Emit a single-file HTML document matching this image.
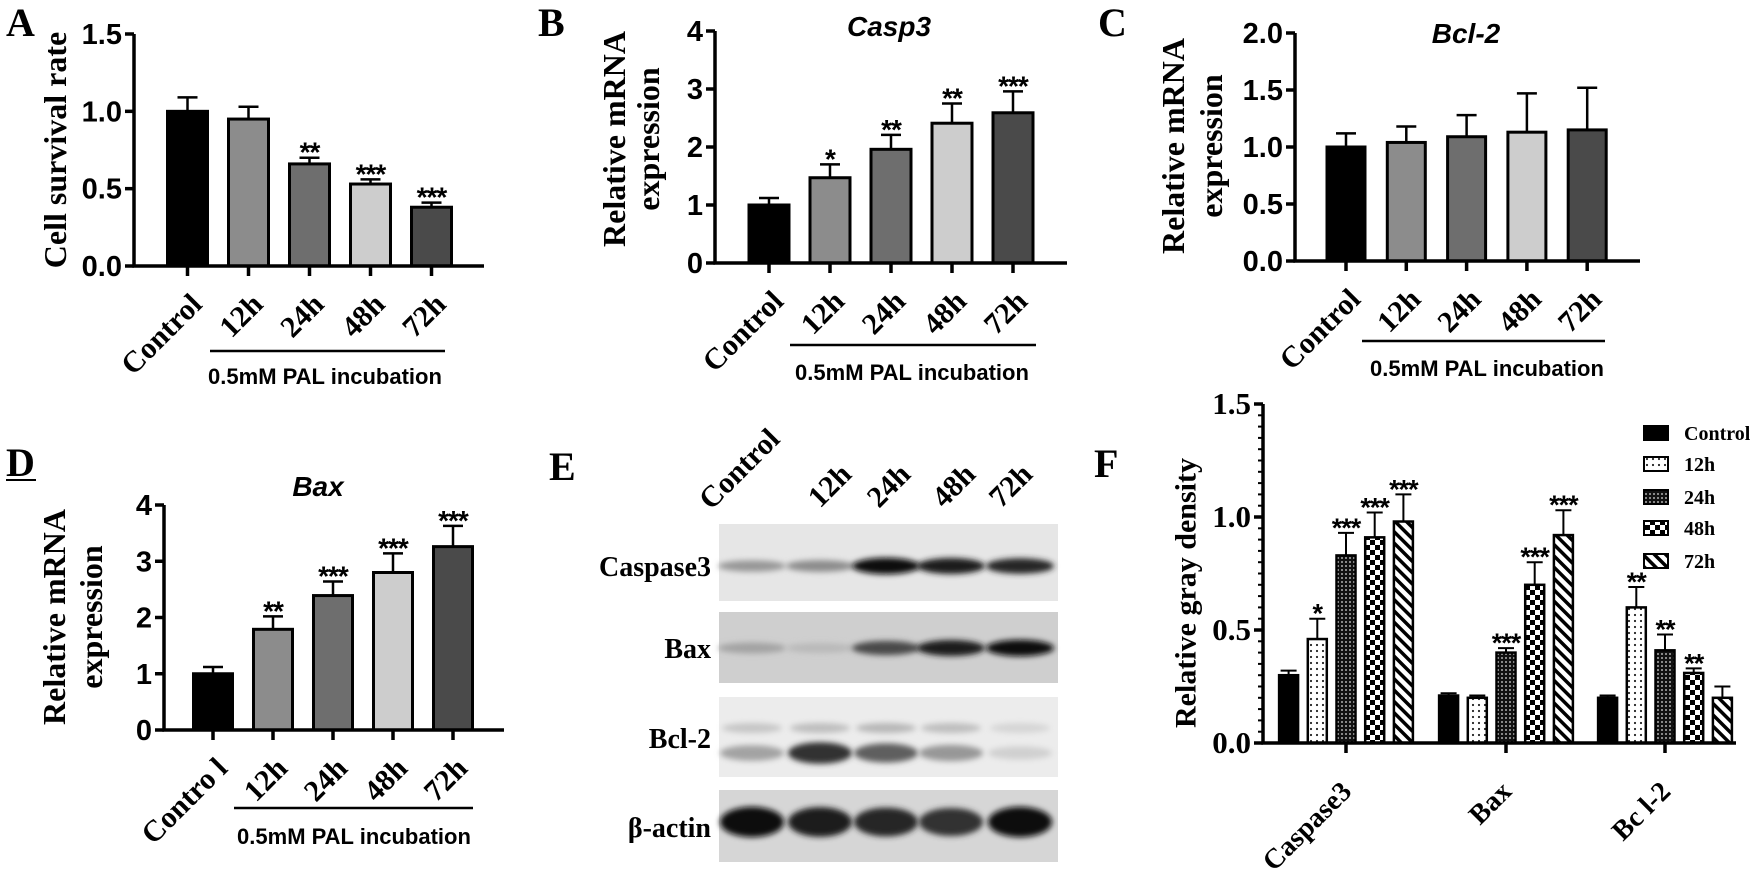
<!DOCTYPE html>
<html><head><meta charset="utf-8"><style>
html,body{margin:0;padding:0;background:#fff;}
svg{display:block;}
.tb{font-family:"Liberation Serif",serif;font-weight:bold;}
.ab{font-family:"Liberation Sans",sans-serif;font-weight:bold;}
</style></head><body>
<svg id="fig" xmlns="http://www.w3.org/2000/svg" width="1750" height="881" viewBox="0 0 1750 881">
<defs>
<pattern id="p12" width="6" height="6" patternUnits="userSpaceOnUse"><rect width="6" height="6" fill="#fff"/><circle cx="3" cy="3" r="1.1" fill="#222"/></pattern>
<pattern id="p24" width="4" height="4" patternUnits="userSpaceOnUse"><rect width="4" height="4" fill="#111"/><circle cx="2" cy="2" r="0.9" fill="#ddd"/></pattern>
<pattern id="p48" width="10" height="10" patternUnits="userSpaceOnUse"><rect width="10" height="10" fill="#fff"/><rect width="5" height="5" fill="#000"/><rect x="5" y="5" width="5" height="5" fill="#000"/></pattern>
<pattern id="p72" width="8" height="8" patternUnits="userSpaceOnUse" patternTransform="rotate(-45)"><rect width="8" height="8" fill="#fff"/><rect width="3.5" height="8" fill="#000"/></pattern>
<filter id="blur3" x="-20%" y="-100%" width="140%" height="300%"><feGaussianBlur stdDeviation="3"/></filter>
</defs>
<g id="root"></g>
</svg>
<script>
// ---------- Panel A data ----------
const catsA = ["Control","12h","24h","48h","72h"];
const valsA = [1.0, 0.95, 0.66, 0.53, 0.38];
const errsA = [0.09, 0.08, 0.04, 0.03, 0.03];
const starsA = ["", "", "**", "***", "***"];
const ticksA = [0, 0.5, 1.0, 1.5];
// ---------- Panel B data ----------
const catsB = ["Control","12h","24h","48h","72h"];
const valsB = [1.0, 1.47, 1.96, 2.41, 2.59];
const errsB = [0.12, 0.23, 0.25, 0.34, 0.37];
const starsB = ["", "*", "**", "**", "***"];
const ticksB = [0, 1, 2, 3, 4];
// ---------- Panel C data ----------
const catsC = ["Control","12h","24h","48h","72h"];
const valsC = [1.0, 1.04, 1.09, 1.13, 1.15];
const errsC = [0.12, 0.14, 0.19, 0.34, 0.37];
const starsC = ["", "", "", "", ""];
const ticksC = [0, 0.5, 1.0, 1.5, 2.0];
// ---------- Panel D data ----------
const catsD = ["Contro l","12h","24h","48h","72h"];
const valsD = [1.0, 1.79, 2.39, 2.8, 3.26];
const errsD = [0.12, 0.23, 0.25, 0.34, 0.37];
const starsD = ["", "**", "***", "***", "***"];
const ticksD = [0, 1, 2, 3, 4];
// ---------- Panel F data ----------
const groupsF = ["Caspase3","Bax","Bc l-2"];
const seriesF = ["Control","12h","24h","48h","72h"];
const valsFControl = [0.30, 0.21, 0.20];
const valsF12h = [0.46, 0.20, 0.60];
const valsF24h = [0.83, 0.40, 0.41];
const valsF48h = [0.91, 0.70, 0.31];
const valsF72h = [0.98, 0.92, 0.20];
const errsFControl = [0.02, 0.01, 0.01];
const errsF12h = [0.09, 0.01, 0.09];
const errsF24h = [0.10, 0.02, 0.07];
const errsF48h = [0.11, 0.10, 0.02];
const errsF72h = [0.12, 0.11, 0.05];
const starsFControl = ["", "", ""];
const starsF12h = ["*", "", "**"];
const starsF24h = ["***", "***", "**"];
const starsF48h = ["***", "***", "**"];
const starsF72h = ["***", "***", ""];
const ticksF = [0, 0.5, 1.0, 1.5];
// ---------- Panel E (western blot band intensities, 0..1) ----------
const lanesE = ["Control","12h","24h","48h","72h"];
const blotRowsE = ["Caspase3","Bax","Bcl-2","β-actin"];
const bandCasp = [0.35, 0.4, 0.95, 0.9, 0.85];
const bandBax = [0.3, 0.2, 0.7, 0.9, 0.95];
const bandBcl = [0.3, 0.8, 0.6, 0.35, 0.1];
const bandActin = [0.95, 0.9, 0.85, 0.8, 0.95];

const NS = "http://www.w3.org/2000/svg";
const root = document.getElementById("root");
function el(tag, parent){ const e=document.createElementNS(NS,tag); (parent||root).appendChild(e); return e; }
function at(e, o){ for(const k in o) e.setAttribute(k,o[k]); return e; }
function txt(parent, s, o){ const t=el("text",parent); at(t,o); t.textContent=s; return t; }

const grays = ["#000","#8c8c8c","#6e6e6e","#cdcdcd","#4a4a4a"];

function panelLabel(s,x,y,name,underline){
  const t = txt(root, s, {x:x, y:y, class:"tb", "font-size":40});
  
  
  if(underline){ const l=el("line"); at(l,{x1:x,x2:x+30,y1:y+4,y2:y+4,stroke:"#000","stroke-width":2});
    
     }
}

function barChart(P){
  const g = el("g");
  
  
  const ys = v => P.y0 - (v/P.max)*(P.y0-P.yTop);
  const xs = i => P.c0 + i*P.step;
  P.vals.forEach((v,i)=>{
    const r = el("rect",g);
    at(r,{x:xs(i)-P.bw/2, y:ys(v), width:P.bw, height:P.y0-ys(v), fill:grays[i], stroke:"#000","stroke-width":3});
    
    
    const e = el("path",g);
    const top = ys(v+P.errs[i]);
    at(e,{d:`M${xs(i)} ${ys(v)} V${top} M${xs(i)-10} ${top} H${xs(i)+10}`, stroke:"#000","stroke-width":2.5, fill:"none"});
    
    
    if(P.stars[i]){
      const s = txt(g, P.stars[i], {x:xs(i), y:top+4, "text-anchor":"middle", class:"ab", "font-size":28, "letter-spacing":"-1"});
      
      
    }
  });
  const ax = el("path",g);
  at(ax,{d:`M${P.axisX} ${P.yTop} V${P.y0} H${P.xEnd}`, stroke:"#000","stroke-width":3.5, fill:"none"});
  
  
  P.ticks.forEach(t=>{
    const l = el("line",g); at(l,{x1:P.axisX-9,x2:P.axisX,y1:ys(t),y2:ys(t),stroke:"#000","stroke-width":3.5});
    
    
    const tl = txt(g, P.dec? t.toFixed(1): String(t), {x:P.axisX-12, y:ys(t)+10, "text-anchor":"end", class:"ab", "font-size":29});
    
    
  });
  P.cats.forEach((c,i)=>{
    const l = el("line",g); at(l,{x1:xs(i),x2:xs(i),y1:P.y0,y2:P.y0+10,stroke:"#000","stroke-width":3.5});
    
    
    const X = xs(i)+16, Y = P.y0+40;
    const t = txt(g, c, {x:X, y:Y, "text-anchor":"end", class:"tb", "font-size":30, transform:`rotate(-45 ${X} ${Y})`});
    
    
  });
  P.ytitle.forEach((s,k)=>{
    const X = P.ytx[k], Y = P.yty;
    const t = txt(g, s, {x:X, y:Y, "text-anchor":"middle", "dominant-baseline":"central", class:"tb", "font-size":32, transform:`rotate(-90 ${X} ${Y})`});
    
    
  });
  if(P.title){
    const t = txt(g, P.title, {x:P.titleX, y:P.titleY, "text-anchor":"middle", "font-family":"Liberation Sans, sans-serif","font-weight":"bold","font-style":"italic","font-size":28});
    
    
  }
  const u = el("line",g); at(u,{x1:P.ul[0],x2:P.ul[1],y1:P.ulY,y2:P.ulY,stroke:"#000","stroke-width":2.5});
  
  
  const gt = txt(g, "0.5mM PAL incubation", {x:P.gtx, y:P.gty, "text-anchor":"middle", class:"ab", "font-size":22});
  
  
}

barChart({name:"panel-a-chart", cats:catsA, vals:valsA, errs:errsA, stars:starsA, ticks:ticksA, dec:true, max:1.5,
  axisX:134, y0:266, yTop:34, xEnd:484, c0:187.5, step:61, bw:40,
  ytitle:["Cell survival rate"], ytx:[55], yty:150, ul:[210,445], ulY:351, gtx:325, gty:384});
barChart({name:"panel-b-chart", cats:catsB, vals:valsB, errs:errsB, stars:starsB, ticks:ticksB, dec:false, max:4,
  axisX:715, y0:263, yTop:31, xEnd:1067, c0:769, step:61, bw:40, title:"Casp3", titleX:889, titleY:36,
  ytitle:["Relative mRNA","expression"], ytx:[614,648], yty:139, ul:[790,1036], ulY:345, gtx:912, gty:380});
barChart({name:"panel-c-chart", cats:catsC, vals:valsC, errs:errsC, stars:starsC, ticks:ticksC, dec:true, max:2,
  axisX:1295, y0:261, yTop:33, xEnd:1640, c0:1346, step:60.3, bw:38, title:"Bcl-2", titleX:1466, titleY:43,
  ytitle:["Relative mRNA","expression"], ytx:[1173,1211], yty:146, ul:[1362,1605], ulY:341, gtx:1487, gty:376});
barChart({name:"panel-d-chart", cats:catsD, vals:valsD, errs:errsD, stars:starsD, ticks:ticksD, dec:false, max:4,
  axisX:164, y0:730, yTop:505, xEnd:504, c0:213, step:60, bw:39, title:"Bax", titleX:318, titleY:496,
  ytitle:["Relative mRNA","expression"], ytx:[54,91], yty:617, ul:[234,473], ulY:808, gtx:354, gty:844});

panelLabel("A",6,36,"panel-label-a");
panelLabel("B",538,36,"panel-label-b");
panelLabel("C",1098,36,"panel-label-c");
panelLabel("D",6,476,"panel-label-d",true);
panelLabel("E",549,480,"panel-label-e");
panelLabel("F",1094,477,"panel-label-f");

// ---------- Panel E: western blot ----------
(function(){
  const g = el("g");
  
  
  const bx0 = 719, bx1 = 1058;
  const laneX = [752, 820, 886, 951, 1020];
  const rows = [
    {y0:524,y1:601,bg:"#e6e6e6",band:566,vals:bandCasp,h:7,w:30},
    {y0:612,y1:683,bg:"#cfcfcf",band:648,vals:bandBax,h:7,w:30},
    {y0:697,y1:777,bg:"#ececec",band:753,vals:bandBcl,h:10,w:28},
    {y0:790,y1:862,bg:"#d6d6d6",band:822,vals:bandActin,h:13,w:28}
  ];
  const labY = [566, 648, 738, 827];
  rows.forEach((r,k)=>{
    const b = el("rect",g); at(b,{x:bx0,y:r.y0,width:bx1-bx0,height:r.y1-r.y0,fill:r.bg});
    
    
    r.vals.forEach((v,i)=>{
      const c = Math.round(230 - v*225);
      const e = el("ellipse",g); at(e,{cx:laneX[i],cy:r.band,rx:r.w+4,ry:r.h*(0.6+0.6*v),fill:`rgb(${c},${c},${c})`,filter:"url(#blur3)"});
      
      
    });
    const t = txt(g, blotRowsE[k], {x:711, y:labY[k]+10, "text-anchor":"end", class:"tb", "font-size":28});
    
    
  });
  const up = [0.25,0.3,0.35,0.3,0.15];
  up.forEach((v,i)=>{
    const c = Math.round(235 - v*150);
    const e = el("ellipse",g); at(e,{cx:laneX[i],cy:728,rx:30,ry:5,fill:`rgb(${c},${c},${c})`,filter:"url(#blur3)"});
    
    
  });
  const starts = [[711,511],[820,509],[879,509],[944,509],[1001,509]];
  lanesE.forEach((s,i)=>{
    const [X,Y] = starts[i];
    const t = txt(g, s, {x:X, y:Y, class:"tb", "font-size":30, transform:`rotate(-45 ${X} ${Y})`});
    
    
  });
})();

// ---------- Panel F: grouped bar chart ----------
(function(){
  const g = el("g");
  
  
  const axisX=1263, y0=743, yTop=404, xEnd=1736, max=1.5;
  const ys = v => y0 - (v/max)*(y0-yTop);
  const gc = [1346, 1506, 1665];
  const off = 28.7, bw = 19;
  const fills = ["#000","url(#p12)","url(#p24)","url(#p48)","url(#p72)"];
  const V = [valsFControl, valsF12h, valsF24h, valsF48h, valsF72h];
  const E = [errsFControl, errsF12h, errsF24h, errsF48h, errsF72h];
  const S = [starsFControl, starsF12h, starsF24h, starsF48h, starsF72h];
  groupsF.forEach((grp,gi)=>{
    seriesF.forEach((s,si)=>{
      const x = gc[gi] + (si-2)*off, v = V[si][gi], top = ys(v+E[si][gi]);
      const r = el("rect",g); at(r,{x:x-bw/2,y:ys(v),width:bw,height:y0-ys(v),fill:fills[si],stroke:"#000","stroke-width":2.5});
      
      
      const e = el("path",g); at(e,{d:`M${x} ${ys(v)} V${top} M${x-8} ${top} H${x+8}`,stroke:"#000","stroke-width":2,fill:"none"});
      
      
      if(S[si][gi]){
        const t = txt(g, S[si][gi], {x:x, y:top+4, "text-anchor":"middle", class:"ab", "font-size":27, "letter-spacing":"-1"});
        
        
      }
    });
    const l = el("line",g); at(l,{x1:gc[gi],x2:gc[gi],y1:y0,y2:y0+10,stroke:"#000","stroke-width":3.5});
    
    
    const X = gc[gi]+7, Y = y0+50;
    const t = txt(g, grp, {x:X, y:Y, "text-anchor":"end", class:"tb", "font-size":28, transform:`rotate(-45 ${X} ${Y})`});
    
    
  });
  const ax = el("path",g); at(ax,{d:`M${axisX} ${yTop} V${y0} H${xEnd}`,stroke:"#000","stroke-width":3.5,fill:"none"});
  
  
  for(let k=0;k<=30;k++){
    const v = k*0.05, major = (k%10===0);
    const l = el("line",g); at(l,{x1:axisX-(major?9:5),x2:axisX,y1:ys(v),y2:ys(v),stroke:"#000","stroke-width":major?3.5:2});
    
    
  }
  ticksF.forEach(t=>{
    const tl = txt(g, t.toFixed(1), {x:axisX-12, y:ys(t)+10, "text-anchor":"end", class:"tb", "font-size":31});
    
    
  });
  const X=1186, Y=593;
  const yt = txt(g, "Relative gray density", {x:X, y:Y, "text-anchor":"middle","dominant-baseline":"central", class:"tb","font-size":30, transform:`rotate(-90 ${X} ${Y})`});
  
  
  const legY = [433, 464, 497, 528, 561];
  seriesF.forEach((s,si)=>{
    const r = el("rect",g); at(r,{x:1644,y:legY[si]-7,width:24,height:14,fill:fills[si],stroke:"#000","stroke-width":2});
    
    
    const t = txt(g, s, {x:1684, y:legY[si]+7, class:"tb", "font-size":20});
    
    
  });
})();
</script>
</body></html>
